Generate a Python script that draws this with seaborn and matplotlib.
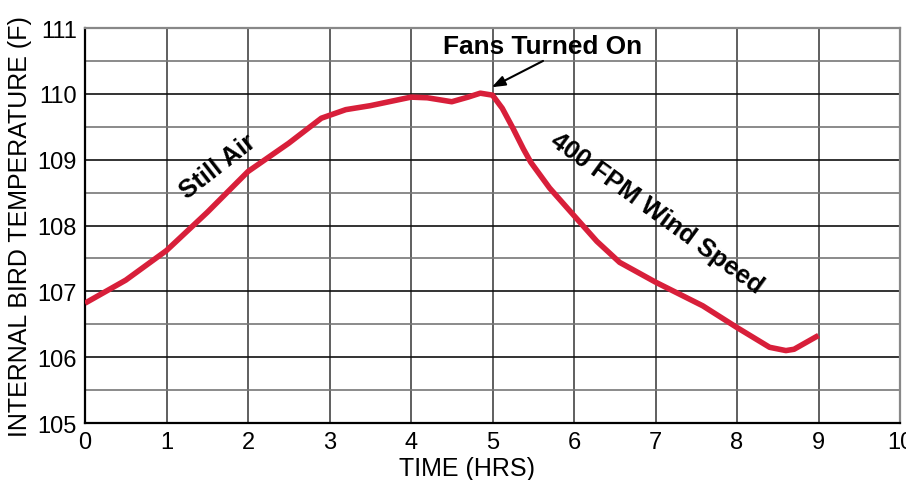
import matplotlib
matplotlib.use("Agg")
import matplotlib.pyplot as plt
import seaborn as sns
import numpy as np

# valores
tempo_hrs = [0.0, 0.5, 1.0, 1.5, 2.0, 2.5, 2.9, 3.2, 3.5, 4.0, 4.2, 4.5, 4.7,
             4.85, 5.0, 5.12, 5.25, 5.38, 5.47, 5.7, 6.0, 6.28, 6.56, 7.0,
             7.58, 8.0, 8.4, 8.6, 8.7, 9.0]
temp_f = [106.82, 107.17, 107.62, 108.2, 108.82, 109.25, 109.63, 109.76,
          109.82, 109.95, 109.94, 109.88, 109.95, 110.01, 109.98, 109.78,
          109.48, 109.16, 108.96, 108.57, 108.15, 107.76, 107.44, 107.14,
          106.78, 106.45, 106.15, 106.1, 106.12, 106.33]

x_ticks = list(range(0, 11))
y_ticks = list(range(105, 112))

sns.set_style("white")
plt.rcParams["font.family"] = ["Liberation Sans", "DejaVu Sans"]
plt.rcParams["text.color"] = "black"
plt.rcParams["axes.labelcolor"] = "black"

fig = plt.figure(figsize=(9.06, 4.81), dpi=100)
ax = fig.add_axes([85 / 906, 1 - 424 / 481, 815 / 906, 395 / 481])

# grade: linhas inteiras escuras, meias linhas cinza
for v in x_ticks:
    ax.axvline(v, color="#444444", lw=1.2, zorder=1)
for v in y_ticks:
    ax.axhline(v, color="#111111", lw=1.2, zorder=1)
for v in np.arange(105.5, 111, 1.0):
    ax.axhline(v, color="#777777", lw=1.2, zorder=1)

sns.lineplot(x=tempo_hrs, y=temp_f, ax=ax, color="#D81F3A", linewidth=4.0,
             sort=False, estimator=None, zorder=3,
             solid_joinstyle="round", solid_capstyle="butt")

ax.set_xlim(0, 10)
ax.set_ylim(105, 111)
ax.set_xticks(x_ticks)
ax.set_yticks(y_ticks)
ax.tick_params(axis="both", labelsize=17, length=5, width=1.2, pad=1,
               colors="black", direction="out")
ax.tick_params(axis="x", pad=1)

for lado in ["left", "bottom"]:
    ax.spines[lado].set_color("black")
    ax.spines[lado].set_linewidth(1.6)
for lado in ["top", "right"]:
    ax.spines[lado].set_color("#888888")
    ax.spines[lado].set_linewidth(1.6)

ax.set_xlabel("TIME (HRS)", fontsize=18, labelpad=2)
ax.xaxis.label.set_x(0.469)
ax.set_ylabel("INTERNAL BIRD TEMPERATURE (F)", fontsize=18, labelpad=4)

ax.text(1.63, 108.9, "Still Air", fontsize=18.5, fontweight="bold",
        rotation=38, ha="center", va="center", rotation_mode="anchor", zorder=4)
ax.text(7.01, 108.19, "400 FPM Wind Speed", fontsize=18.4, fontweight="bold",
        rotation=-36, ha="center", va="center", rotation_mode="anchor", zorder=4)
ax.text(5.61, 110.72, "Fans Turned On", fontsize=18.9, fontweight="bold",
        ha="center", va="center", zorder=4)
ax.annotate("", xy=(4.99, 110.1), xytext=(5.62, 110.5),
            arrowprops=dict(arrowstyle="-|>,head_length=0.8,head_width=0.3",
                            color="black", lw=1.5, shrinkA=0, shrinkB=0),
            zorder=4)

fig.savefig("out.png", dpi=100)
